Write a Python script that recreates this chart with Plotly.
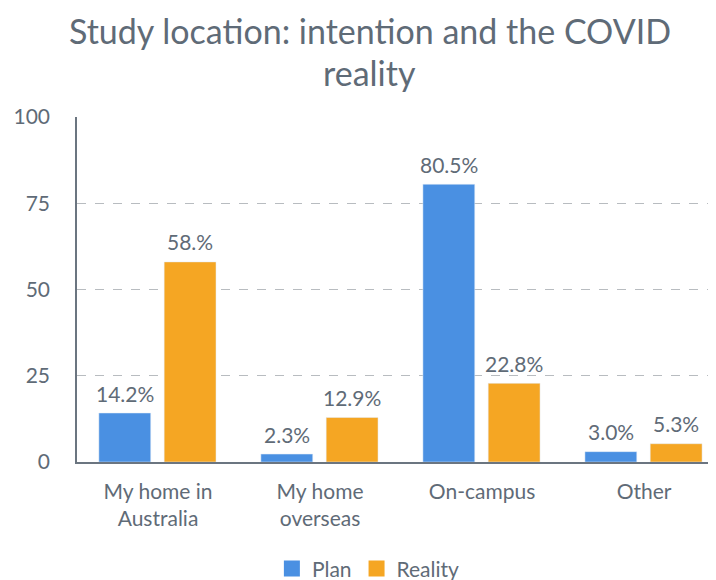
import plotly.graph_objects as go

categories = ["My home in<br>Australia", "My home<br>overseas", "On-campus", "Other"]
plan = [14.2, 2.3, 80.5, 3.0]
reality = [58.0, 12.9, 22.8, 5.3]
plan_labels = ["14.2%", "2.3%", "80.5%", "3.0%"]
reality_labels = ["58.%", "12.9%", "22.8%", "5.3%"]
y_ticks = [0, 25, 50, 75, 100]
title_lines = ["Study location: intention and the COVID", "reality"]

TXT = "#5f6b77"
FONT = "Lato"
BLUE = "#4a90e2"
ORANGE = "#f5a623"
BAR_W = 0.32
PLAN_OFF = -0.365
REAL_OFF = 0.038

fig = go.Figure()
fig.add_trace(go.Bar(x=categories, y=plan, name="Plan", marker_color=BLUE,
                     width=BAR_W, offset=PLAN_OFF, showlegend=False))
fig.add_trace(go.Bar(x=categories, y=reality, name="Reality", marker_color=ORANGE,
                     width=BAR_W, offset=REAL_OFF, showlegend=False))
# legend entries (larger square symbols)
fig.add_trace(go.Scatter(x=[None], y=[None], mode="markers", name="Plan",
                         marker=dict(symbol="square", size=20, color=BLUE)))
fig.add_trace(go.Scatter(x=[None], y=[None], mode="markers", name="Reality",
                         marker=dict(symbol="square", size=20, color=ORANGE)))

annotations = []
for i, cat in enumerate(categories):
    for vals, labs, off in ((plan, plan_labels, PLAN_OFF), (reality, reality_labels, REAL_OFF)):
        annotations.append(dict(
            x=i + off + BAR_W / 2, y=vals[i], xref="x", yref="y",
            text=labs[i], showarrow=False, yanchor="middle", yshift=20,
            font=dict(size=21, color=TXT, family=FONT)))
for line, ypos in zip(title_lines, (1.2493, 1.1304)):
    annotations.append(dict(
        x=0.4585, y=ypos, xref="paper", yref="paper", text=line,
        showarrow=False, xanchor="center", yanchor="middle", borderpad=0,
        font=dict(size=34, color=TXT, family=FONT)))

fig.update_layout(
    width=708, height=572,
    margin=dict(l=69, r=0, t=109, b=118, autoexpand=False),
    paper_bgcolor="white", plot_bgcolor="white",
    font=dict(family=FONT, color=TXT, size=21),
    annotations=annotations,
    showlegend=True,
    legend=dict(orientation="h", x=0.456, xanchor="center", y=-0.31, yanchor="middle",
                font=dict(size=21, color=TXT, family=FONT), itemwidth=30),
    xaxis=dict(type="category", range=[-0.5, 3.444], showline=True, linecolor="#6b7580",
               linewidth=1.5, ticks="", ticklabelstandoff=10,
               tickfont=dict(size=21, color=TXT, family=FONT), showgrid=False),
    yaxis=dict(range=[0, 100], tickvals=y_ticks, showline=True, linecolor="#6b7580",
               linewidth=1.5, showgrid=True, gridcolor="#b8bcc0", griddash="dash",
               gridwidth=1, zeroline=False, ticks="", ticklabelstandoff=21,
               tickfont=dict(size=21, color=TXT, family=FONT)),
)

fig.write_html("out.html")
